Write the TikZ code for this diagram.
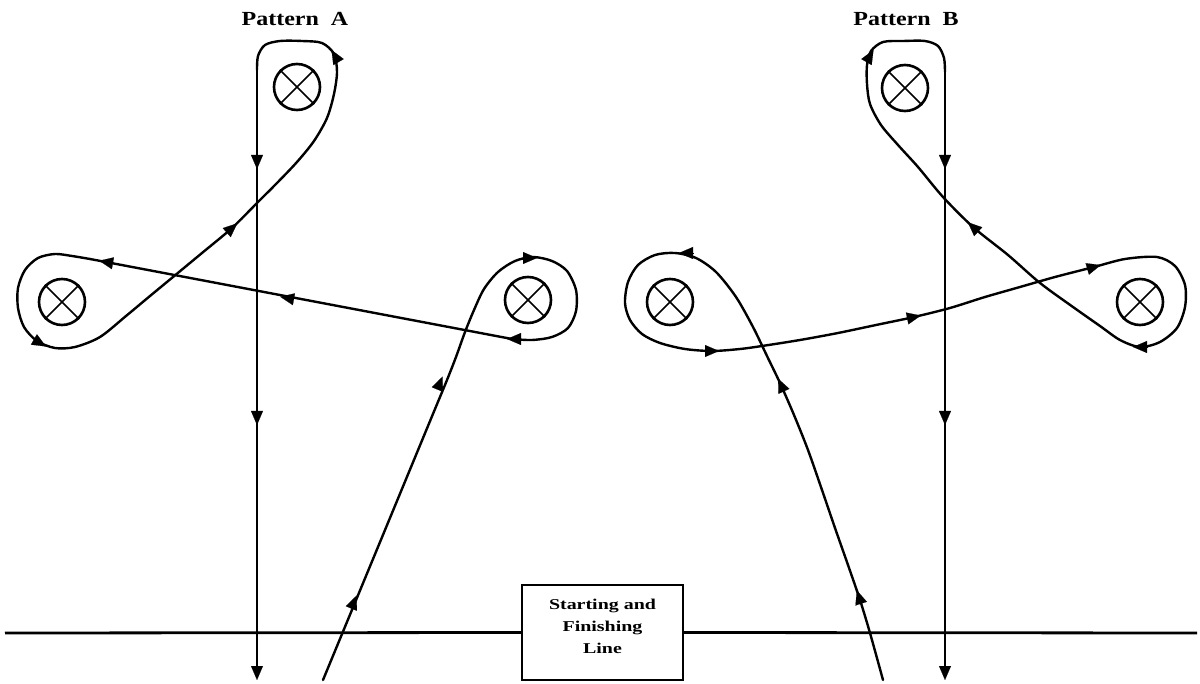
\documentclass[tikz,border=0pt]{standalone}
\usepackage{fontspec}
\setmainfont{Liberation Serif}
\usetikzlibrary{arrows.meta,calc}
\newcommand{\arrowmark}[4]{\draw[tipst] ($(#1,#2)-(7*#3,7*#4)$) -- ($(#1,#2)+(7*#3,7*#4)$);}
\begin{document}
\begin{tikzpicture}[x=1pt,y=-1pt,
  route/.style={line width=2.4pt, line cap=round, line join=round},
  axisline/.style={line width=2.8pt},
  tipst/.style={line width=0.1pt, -{Triangle[length=14pt,width=12pt]}},
  barrel/.style={circle, draw, line width=2.6pt, minimum size=46pt, inner sep=0pt},
  title/.style={font=\bfseries\fontsize{20}{22}\selectfont},
  boxtext/.style={font=\bfseries\fontsize{15}{22}\selectfont, align=center}]
\useasboundingbox (0,0) rectangle (1200,684);

% titles
\node[title] (tA) at (295,19) {\scalebox{1.2}[1]{Pattern\ \ A}};
\node[title] (tB) at (906,19) {\scalebox{1.2}[1]{Pattern\ \ B}};

% barrels
\foreach \n/\x/\y in {A1/297/87, A2/62/302, A3/528/300, B1/905/88, B2/670/302, B3/1140/302}{
  \node[barrel] (\n) at (\x,\y) {};
  \draw[line width=1.6pt] (\n.45) -- (\n.225) (\n.135) -- (\n.315);
}

% start / finish line and box
\node[draw, line width=2.4pt, minimum width=161pt, minimum height=95pt, inner sep=0pt] (box) at (602.5,632.5) {};
\node[boxtext] (boxlabel) at (602.5,626) {\scalebox{1.33}[1]{Starting and}\\\scalebox{1.33}[1]{Finishing}\\\scalebox{1.33}[1]{Line}};
\draw[axisline] (5,633) -- (box.west);
\draw[axisline] (box.east) -- (1197,633);

% ---------- Pattern A ----------
\draw[route] plot[smooth] coordinates {(323,680) (335.4,650) (347.8,620) (360.2,590) (372.6,560) (385,530) (397.4,500) (409.8,470) (422.2,440) (434.6,410) (447,380) (456,357) (465,332) (474,310) (484,289) (498,272) (515,261) (533,257) (552,261) (567,271) (576,290) (576,311) (568,328) (552,337) (532,340) (512,339)};
\draw[route] (512,339) -- (90,259);
\draw[route] plot[smooth] coordinates {(90,259) (72,256) (55,254) (38,258) (25,270) (18,288) (18,308) (24,327) (37,341) (55,348) (75,347) (100,337) (126,316) (150,296) (173,277) (202,253) (232,228) (257,203) (277,183) (297,162) (314,141) (327,118) (334,94) (337,72) (334,54) (322,43) (302,41) (280,41) (265,45) (258,56) (257,70)};
\draw[axisline] (257,70) -- (257,676);

\arrowmark{354}{602}{0.38}{-0.92}
\arrowmark{440}{383}{0.38}{-0.92}
\arrowmark{530}{258}{1}{0}
\arrowmark{514}{339}{-1}{0}
\arrowmark{287}{298}{-0.98}{-0.18}
\arrowmark{106}{262}{-0.98}{-0.18}
\arrowmark{40}{343}{0.86}{0.5}
\arrowmark{232}{228}{0.75}{-0.66}
\arrowmark{335}{56}{-0.5}{-0.86}
\arrowmark{257}{162}{0}{1}
\arrowmark{257}{418}{0}{1}
\arrowmark{257}{673}{0}{1}

% ---------- Pattern B ----------
\draw[route] plot[smooth] coordinates {(883,680) (870,633) (860,600) (848,565) (835,528) (822,490) (808,450) (794,415) (780,383) (767,356) (753,327) (736,297) (716,272) (696,258) (675,253) (655,255) (638,265) (628,282) (625,303) (630,320) (642,334) (660,343) (685,349) (712,351) (740,349) (762,346) (800,340) (838,333) (876,325) (914,317) (950,308) (985,297) (1020,287) (1055,277) (1094,267) (1125,259) (1157,257) (1175,266) (1185,285) (1185,307) (1177,328) (1160,342) (1140,347) (1120,340) (1100,326) (1073,307) (1040,283) (1008,255) (973,227) (943,197) (918,167) (898,145) (881,125) (870,104) (867,84) (867,65) (871,51) (883,42) (903,41) (925,41) (938,46) (944,58) (945,72)};
\draw[axisline] (945,72) -- (945,676);

\arrowmark{859}{597}{-0.31}{-0.95}
\arrowmark{781}{385}{-0.42}{-0.91}
\arrowmark{686}{253}{-1}{0}
\arrowmark{712}{351}{1}{0}
\arrowmark{914}{317}{0.98}{-0.21}
\arrowmark{1094}{267}{0.96}{-0.28}
\arrowmark{1140}{347}{-1}{0}
\arrowmark{973}{227}{-0.74}{-0.67}
\arrowmark{870}{56}{0.5}{-0.86}
\arrowmark{945}{162}{0}{1}
\arrowmark{945}{418}{0}{1}
\arrowmark{945}{673}{0}{1}
\end{tikzpicture}
\end{document}
